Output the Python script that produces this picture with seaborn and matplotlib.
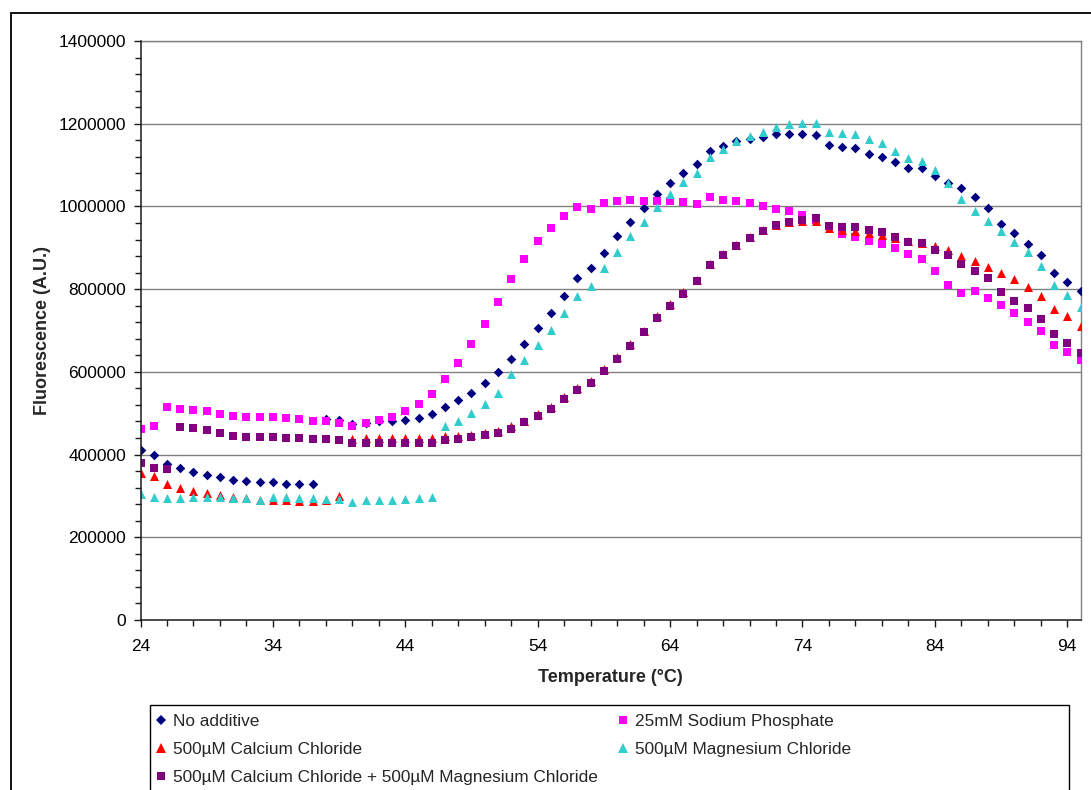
import numpy as np
import pandas as pd
import matplotlib
matplotlib.use("Agg")
import matplotlib.pyplot as plt
from matplotlib.lines import Line2D
from matplotlib.patches import Rectangle
from matplotlib.ticker import MultipleLocator, FuncFormatter
import seaborn as sns

# Melt-curve readings, one reading per degree from 24 to 95 °C (values in A.U.)
temperature = list(range(24, 96))

no_additive = [
    410, 399, 376, 367, 357, 351, 346, 339, 335, 333, 333, 330, 330, 330,
    485, 483, 474, 476, 480, 480, 483, 488, 497, 516, 531, 549, 574, 600,
    631, 668, 707, 743, 783, 826, 850, 887, 928, 962, 995, 1030, 1057, 1082,
    1103, 1134, 1146, 1159, 1162, 1168, 1175, 1175, 1175, 1172, 1148, 1144,
    1141, 1127, 1120, 1108, 1093, 1093, 1074, 1057, 1045, 1024, 996, 957,
    936, 908, 883, 838, 817, 796,
]

sodium_phosphate = [
    462, 470, 516, 511, 508, 505, 498, 494, 492, 492, 492, 489, 485, 480,
    480, 477, 470, 477, 484, 492, 505, 522, 546, 583, 621, 667, 715, 770,
    824, 873, 916, 949, 977, 998, 994, 1008, 1013, 1016, 1012, 1013, 1012,
    1010, 1007, 1022, 1016, 1013, 1008, 1001, 994, 988, 980, 966, 952, 933,
    927, 917, 909, 900, 884, 872, 845, 811, 790, 796, 778, 762, 742, 720,
    698, 666, 647, 628,
]

calcium_chloride = [
    356, 348, 329, 320, 312, 308, 302, 298, 294, 290, 290, 289, 288, 288,
    290, 301, 438, 440, 440, 440, 440, 440, 440, 444, 444, 447, 451, 458,
    468, 482, 497, 515, 538, 560, 577, 606, 636, 668, 700, 734, 764, 792,
    822, 861, 885, 906, 926, 942, 955, 962, 965, 965, 948, 944, 940, 935,
    931, 924, 917, 912, 905, 895, 880, 868, 853, 838, 825, 806, 784, 752,
    734, 712,
]

magnesium_chloride = [
    305, 298, 296, 296, 298, 298, 298, 296, 294, 290, 298, 298, 296, 296,
    292, 292, 286, 290, 290, 290, 292, 296, 298, 469, 482, 500, 522, 548,
    595, 629, 666, 701, 743, 783, 808, 850, 890, 928, 962, 999, 1030, 1060,
    1082, 1120, 1139, 1157, 1171, 1181, 1193, 1199, 1202, 1202, 1181, 1178,
    1175, 1162, 1154, 1135, 1116, 1111, 1087, 1056, 1017, 989, 965, 941,
    913, 889, 856, 810, 786, 758,
]

calcium_magnesium = [
    380, 368, 364, 467, 465, 459, 451, 446, 443, 443, 443, 441, 441, 438,
    438, 435, 427, 427, 427, 427, 427, 427, 427, 435, 438, 442, 447, 453,
    463, 478, 493, 511, 534, 556, 572, 602, 632, 663, 696, 730, 760, 788,
    819, 858, 882, 904, 924, 941, 954, 963, 967, 971, 953, 951, 951, 943,
    937, 927, 915, 912, 895, 883, 862, 845, 826, 792, 772, 754, 727, 691,
    670, 645,
]

series_names = [
    "No additive",
    "25mM Sodium Phosphate",
    "500µM Calcium Chloride",
    "500µM Magnesium Chloride",
    "500µM Calcium Chloride + 500µM Magnesium Chloride",
]
series_values = [no_additive, sodium_phosphate, calcium_chloride,
                 magnesium_chloride, calcium_magnesium]
series_colors = ["#000080", "#FF00FF", "#FF0000", "#33CCCC", "#800080"]
series_markers = ["D", "s", "^", "^", "s"]
series_sizes = [24, 34, 42, 42, 34]
legend_sizes = [5.0, 6.0, 6.5, 6.5, 6.0]

y_ticks = [0, 200000, 400000, 600000, 800000, 1000000, 1200000, 1400000]
x_ticks = [24, 34, 44, 54, 64, 74, 84, 94]

sns.set_theme(style="white")
plt.rcParams["font.family"] = ["Liberation Sans", "DejaVu Sans"]

W, H = 1091, 790
fig = plt.figure(figsize=(W / 100, H / 100), dpi=100)
ax = fig.add_axes([140.5 / W, 1 - 620 / H, 940 / W, 579 / H])

for name, vals, col, mk, sz in zip(series_names, series_values, series_colors,
                                   series_markers, series_sizes):
    df = pd.DataFrame({"Temperature": temperature,
                       "Fluorescence": np.array(vals) * 1000})
    sns.scatterplot(data=df, x="Temperature", y="Fluorescence", ax=ax,
                    color=col, marker=mk, s=sz, linewidth=0, legend=False,
                    zorder=3)

ax.set_xlim(24, 95)
ax.set_ylim(0, 1400000)
ax.set_xticks(x_ticks)
ax.set_yticks(y_ticks)
ax.xaxis.set_minor_locator(MultipleLocator(2))
ax.yaxis.set_minor_locator(MultipleLocator(40000))
ax.yaxis.set_major_formatter(FuncFormatter(lambda v, p: f"{int(round(v))}"))

ax.grid(False)
for yv in y_ticks[1:]:
    ax.axhline(yv, color="#808080", lw=1.0, zorder=1)

for side in ("top", "right"):
    ax.spines[side].set_color("#808080")
    ax.spines[side].set_linewidth(1.0)
for side in ("left", "bottom"):
    ax.spines[side].set_color("#1a1a1a")
    ax.spines[side].set_linewidth(1.1)
    ax.spines[side].set_zorder(4)

ax.tick_params(axis="both", which="both", direction="out", color="#1a1a1a",
               width=1.0, labelsize=12.5, labelcolor="black")
ax.tick_params(axis="both", which="major", length=5)
ax.tick_params(axis="both", which="minor", length=4)
ax.tick_params(axis="y", which="major", pad=5.5)
ax.tick_params(axis="x", which="major", pad=9)
ax.tick_params(bottom=True, left=True, which="both")

ax.set_xlabel("Temperature (°C)", fontsize=13, fontweight="bold")
ax.set_ylabel("Fluorescence (A.U.)", fontsize=13, fontweight="bold")
ax.xaxis.set_label_coords(0.5, -0.084)
ax.yaxis.set_label_coords(-0.095, 0.5)

# outer chart frame (runs past the right and bottom edges of the canvas)
fig.patches.append(Rectangle((10.5 / W, -0.5), 2.0, (1 - 13 / H) + 0.5,
                             transform=fig.transFigure, fill=False,
                             ec="black", lw=1.3, clip_on=False))
# legend frame
fig.patches.append(Rectangle((150 / W, -0.3), (1069 - 150) / W,
                             (1 - 705 / H) + 0.3, transform=fig.transFigure,
                             fill=False, ec="black", lw=1.0, clip_on=False))

handles = [Line2D([], [], ls="none", marker=mk, color=col, markersize=ms,
                  markeredgewidth=0)
           for mk, col, ms in zip(series_markers, series_colors, legend_sizes)]

legend_kw = dict(frameon=False, loc="upper left", fontsize=12.4,
                 borderpad=0, borderaxespad=0, handlelength=0.8,
                 handletextpad=0.3, labelspacing=0.76)
col1 = [0, 2, 4]
col2 = [1, 3]
fig.legend([handles[i] for i in col1], [series_names[i] for i in col1],
           bbox_to_anchor=(153.8 / W, 1 - 714 / H), **legend_kw)
fig.legend([handles[i] for i in col2], [series_names[i] for i in col2],
           bbox_to_anchor=(616 / W, 1 - 714 / H), **legend_kw)

fig.savefig("out.png", dpi=100)
